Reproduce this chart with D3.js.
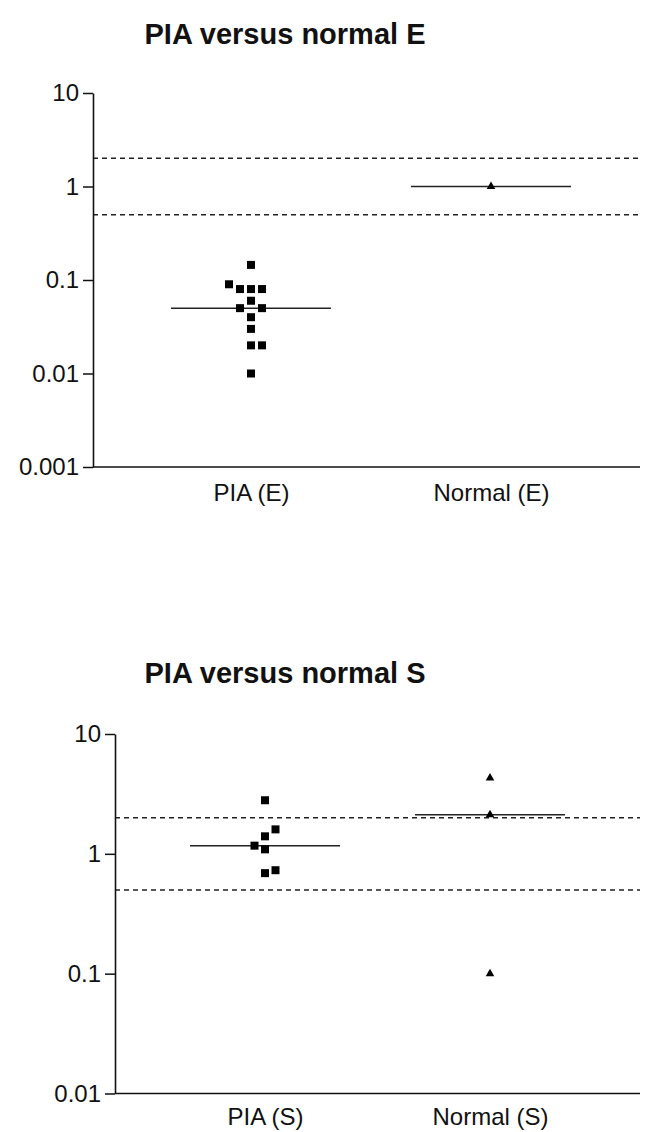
<!DOCTYPE html>
<html>
<head>
<meta charset="utf-8">
<script src="https://cdn.jsdelivr.net/npm/d3@7"></script>
<style>
  body { margin: 0; background: #fff; }
  svg { display: block; }
  text { font-family: "Liberation Sans", Arial, sans-serif; fill: #111; }
</style>
</head>
<body>
<svg id="chart" width="648" height="1132"></svg>
<script>
// ---------- data ----------
const titleE = "PIA versus normal E";
const titleS = "PIA versus normal S";
const categoriesE = ["PIA (E)", "Normal (E)"];
const categoriesS = ["PIA (S)", "Normal (S)"];
const piaE = [0.145, 0.09, 0.08, 0.08, 0.08, 0.06, 0.05, 0.05, 0.04, 0.03, 0.02, 0.02, 0.01];
const normalE = [1.0];
const piaS = [2.8, 1.6, 1.4, 1.17, 1.09, 0.73, 0.69];
const normalS = [4.3, 2.12, 0.1];
const refLines = [2, 0.5];
const ticksE = [0.001, 0.01, 0.1, 1, 10];
const ticksS = [0.01, 0.1, 1, 10];

// ---------- drawing ----------
const svg = d3.select("#chart");

function beeswarm(values, y, spacing, thr) {
  const sorted = values.slice().sort((a, b) => a - b);
  const placed = [];
  let pref = 1;
  sorted.forEach(v => {
    const py = y(v);
    const free = s => !placed.some(p => p.slot === s && Math.abs(p.py - py) < thr);
    let slot = null;
    if (free(0)) slot = 0;
    for (let k = 1; slot === null; k++) {
      const order = pref > 0 ? [k, -k] : [-k, k];
      for (const s of order) {
        if (free(s)) { slot = s; pref = -Math.sign(s); break; }
      }
    }
    placed.push({ v, py, slot, dx: slot * spacing });
  });
  return placed;
}

function panel(cfg) {
  const g = svg.append("g");
  const y = d3.scaleLog().domain(cfg.domain).range([cfg.bottom, cfg.top]);
  const x = d3.scalePoint().domain(cfg.categories).range(cfg.xRange);
  const step = cfg.xRange[1] - cfg.xRange[0];

  // title
  g.append("text")
    .attr("x", cfg.titleX).attr("y", cfg.titleY)
    .attr("text-anchor", "middle")
    .style("font-size", "29px").style("font-weight", "bold")
    .text(cfg.title);

  // reference dashed lines
  g.selectAll("line.ref").data(refLines).join("line")
    .attr("class", "ref")
    .attr("x1", cfg.axisX).attr("x2", cfg.right)
    .attr("y1", d => y(d)).attr("y2", d => y(d))
    .attr("stroke", "#222").attr("stroke-width", 1.5)
    .attr("stroke-dasharray", "5,4");

  // y axis
  const ya = g.append("g")
    .attr("transform", `translate(${cfg.axisX},0)`)
    .call(d3.axisLeft(y).tickValues(cfg.ticks).tickFormat(d3.format("~g"))
      .tickSize(10).tickSizeOuter(0).tickPadding(4));
  ya.select(".domain").attr("stroke", "#111").attr("stroke-width", 1.6);
  ya.selectAll(".tick line").attr("stroke", "#111").attr("stroke-width", 1.5);
  ya.selectAll(".tick text").style("font-size", "24px").attr("fill", "#111")
    .style("font-family", "'Liberation Sans', Arial, sans-serif");

  // x axis line
  g.append("line")
    .attr("x1", cfg.axisX).attr("x2", cfg.right)
    .attr("y1", cfg.bottom).attr("y2", cfg.bottom)
    .attr("stroke", "#111").attr("stroke-width", 1.6);
  const xa = g.append("g")
    .attr("transform", `translate(0,${cfg.bottom})`)
    .call(d3.axisBottom(x).tickSize(0).tickPadding(cfg.labelPad));
  xa.select(".domain").remove();
  xa.selectAll(".tick text").style("font-size", "24px").attr("fill", "#111")
    .style("font-family", "'Liberation Sans', Arial, sans-serif");

  // series
  cfg.series.forEach((vals, i) => {
    const cx = x(cfg.categories[i]);
    const med = d3.median(vals);
    g.append("line")
      .attr("x1", cx - step / 3).attr("x2", cx + step / 3)
      .attr("y1", y(med)).attr("y2", y(med))
      .attr("stroke", "#222").attr("stroke-width", 1.5);
    const pts = beeswarm(vals, y, cfg.spacing, 10);
    const sym = i === 0 ? d3.symbol(d3.symbolSquare, 64) : d3.symbol(d3.symbolTriangle, 32);
    g.selectAll(null).data(pts).join("path")
      .attr("d", sym)
      .attr("transform", d => `translate(${cx + d.dx},${d.py})`)
      .attr("fill", "#000");
  });
}

panel({
  title: titleE, titleX: 285, titleY: 44,
  categories: categoriesE, series: [piaE, normalE],
  domain: [0.001, 10], ticks: ticksE,
  top: 93, bottom: 467, axisX: 93, right: 640,
  xRange: [251, 491], spacing: 11, labelPad: 17
});

panel({
  title: titleS, titleX: 285, titleY: 683,
  categories: categoriesS, series: [piaS, normalS],
  domain: [0.01, 10], ticks: ticksS,
  top: 734, bottom: 1093.5, axisX: 115, right: 640,
  xRange: [265, 490], spacing: 10.5, labelPad: 14
});
</script>
</body>
</html>
